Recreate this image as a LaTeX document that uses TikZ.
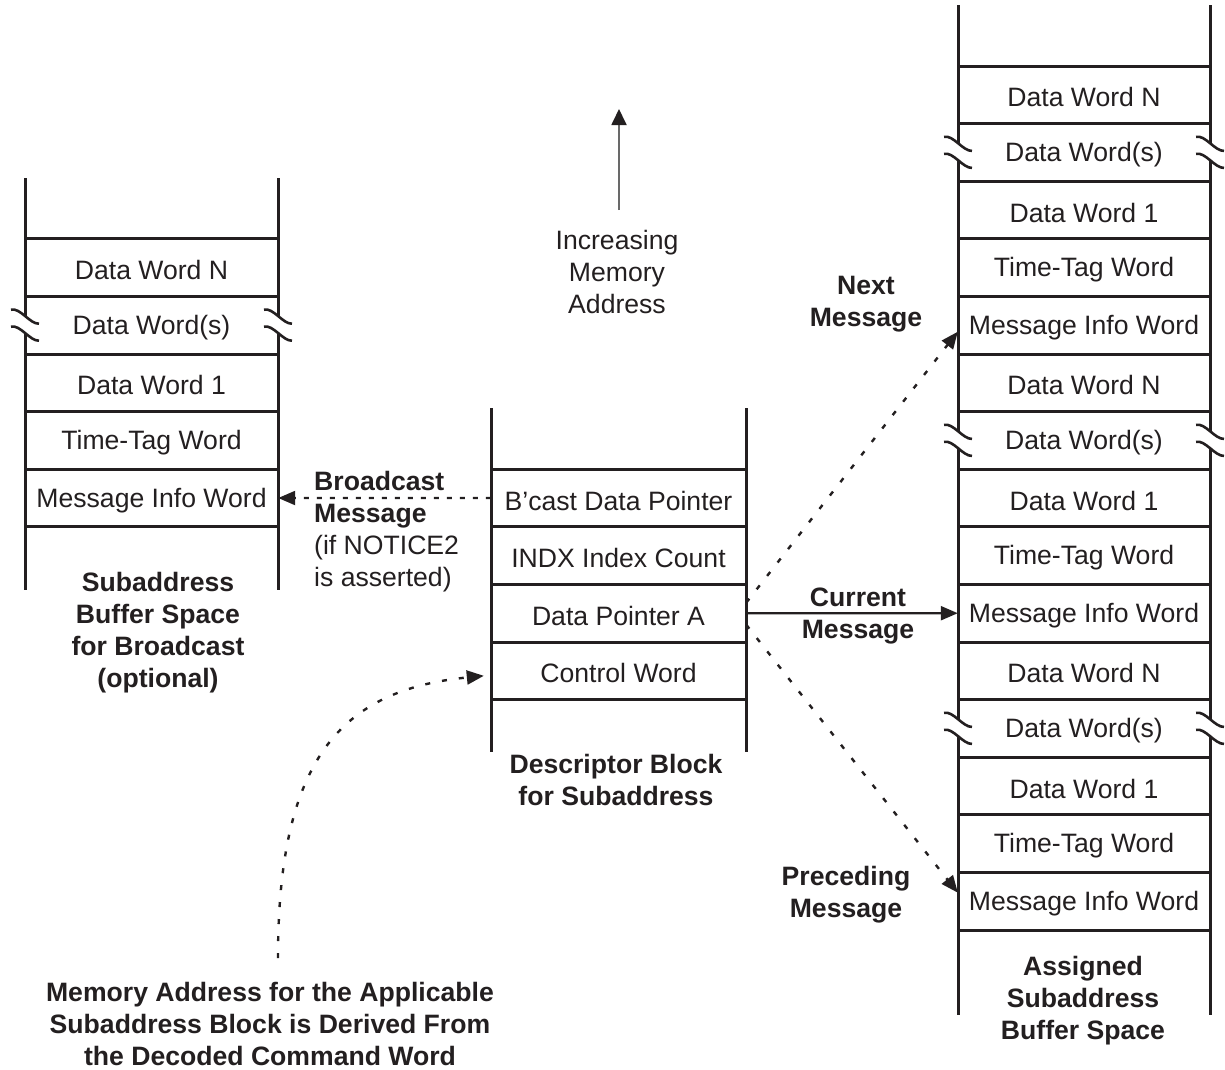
\documentclass[tikz,border=0pt]{standalone}
\usepackage{fontspec}
\setmainfont{Liberation Sans}
\usetikzlibrary{arrows.meta}
\definecolor{ink}{RGB}{35,31,32}
\definecolor{shaft}{RGB}{105,105,105}
\tikzset{
  stack/.style={line width=3pt, draw=ink},
  cell/.style={minimum height=57.6pt, inner sep=0pt, font=\fontsize{26.6}{32}\selectfont, text=ink, yshift=-2.5pt},
  plainlbl/.style={font=\fontsize{26.6}{32}\selectfont, align=center, text=ink, inner sep=0pt},
  boldlbl/.style={font=\fontsize{26.6}{32}\selectfont\bfseries, align=center, text=ink, inner sep=0pt},
  solidarrow/.style={line width=2.2pt, draw=ink, -{Triangle[length=17pt,width=14pt]}},
  dotarrow/.style={line width=2.4pt, draw=ink, dash pattern=on 5pt off 12pt, -{Triangle[length=17pt,width=14pt]}},
  dasharrow/.style={line width=2.2pt, draw=ink, dash pattern=on 5pt off 8pt, -{Triangle[length=17pt,width=14pt]}},
}
\newcommand\brkmark[2]{%
  \draw[line width=2.6pt, draw=ink] (#1-14,#2-15.5) .. controls (#1-5,#2-18) and (#1+5,#2-1) .. (#1+14,#2-1.5);
  \draw[line width=2.6pt, draw=ink] (#1-14,#2+1.5) .. controls (#1-5,#2-1) and (#1+5,#2+16) .. (#1+14,#2+15.5);
}
\begin{document}
\begin{tikzpicture}[x=1pt,y=-1pt]
\useasboundingbox (0,0) rectangle (1225,1069);

% ---------------- right stack ----------------
\foreach \t [count=\k] in {Data Word N, Data Word(s), Data Word 1, Time-Tag Word, Message Info Word,
                          Data Word N, Data Word(s), Data Word 1, Time-Tag Word, Message Info Word,
                          Data Word N, Data Word(s), Data Word 1, Time-Tag Word, Message Info Word}
  \node[cell, minimum width=252pt] (R\k) at (1084, {66+57.6*(\k-0.5)}) {\t};
\foreach \k in {0,...,15}
  \draw[stack] (958,{66+57.6*\k}) -- (1210,{66+57.6*\k});
\foreach \x in {958,1210} {
  \draw[stack] (\x,5) -- (\x,143.9);
  \draw[stack] (\x,160.9) -- (\x,431.9);
  \draw[stack] (\x,448.9) -- (\x,719.9);
  \draw[stack] (\x,736.9) -- (\x,1015);
  \brkmark{\x}{152.4}
  \brkmark{\x}{440.4}
  \brkmark{\x}{728.4}
}
\node[boldlbl] (rcap) at (1083,1001) {Assigned\\Subaddress\\Buffer Space};

% ---------------- left stack ----------------
\foreach \t [count=\k] in {Data Word N, Data Word(s), Data Word 1, Time-Tag Word, Message Info Word}
  \node[cell, minimum width=253pt] (L\k) at (151.5, {238.8+57.6*(\k-0.5)}) {\t};
\foreach \k in {3,...,8}
  \draw[stack] (25,{66+57.6*\k}) -- (278,{66+57.6*\k});
\foreach \x in {25,278} {
  \draw[stack] (\x,178) -- (\x,316.7);
  \draw[stack] (\x,333.7) -- (\x,590);
  \brkmark{\x}{325.2}
}
\node[boldlbl] (lcap) at (158,633) {Subaddress\\Buffer Space\\for Broadcast\\(optional)};

% ---------------- middle stack ----------------
\foreach \t [count=\k] in {B'cast Data Pointer, INDX Index Count, Data Pointer A, Control Word}
  \node[cell, minimum width=255pt] (M\k) at (618.5, {469.2+57.6*(\k-0.5)}) {\t};
\foreach \k in {7,...,11}
  \draw[stack] (491,{66+57.6*\k}) -- (746,{66+57.6*\k});
\foreach \x in {491,746}
  \draw[stack] (\x,408) -- (\x,752);
\node[boldlbl] (mcap) at (616,780) {Descriptor Block\\for Subaddress};

% ---------------- increasing address arrow ----------------
\coordinate (upA) at (619,210);
\coordinate (upB) at (619,109);
\draw[line width=1.8pt, draw=shaft, -{Triangle[length=16pt,width=15pt,color=ink]}] (upA) -- (upB);
\node[plainlbl] (inc) at (617,272) {Increasing\\Memory\\Address};

% ---------------- message arrows ----------------
\draw[solidarrow] ([yshift=2.5pt]M3.east) -- ([yshift=2.5pt]R10.west);
\node[boldlbl] (curlbl) at (858,616) {Current\\Message};

\draw[dotarrow] ([yshift=13pt]M3.east) -- ([yshift=-4pt]R5.west);
\node[boldlbl] (nextlbl) at (866,304) {Next\\Message};

\draw[dotarrow] ([yshift=-9pt]M3.east) -- ([yshift=11pt]R15.west);
\node[boldlbl] (prevlbl) at (846,895) {Preceding\\Message};

% ---------------- broadcast arrow ----------------
\draw[dasharrow] ([yshift=2.5pt]M1.west) -- ([yshift=2.5pt]L5.east);
\node[plainlbl, align=left, anchor=west] (bclbl) at (314,531.5)
  {\textbf{Broadcast}\\\textbf{Message}\\(if NOTICE2\\is asserted)};

% ---------------- command word arrow ----------------
\coordinate (cmdstart) at (278,958);
\draw[dotarrow] (cmdstart) .. controls (278,760) and (340,690) .. ([xshift=-7pt,yshift=-2.5pt]M4.west);
\node[boldlbl] (cmdlbl) at (270,1024) {Memory Address for the Applicable\\Subaddress Block is Derived From\\the Decoded Command Word};
\end{tikzpicture}
\end{document}
